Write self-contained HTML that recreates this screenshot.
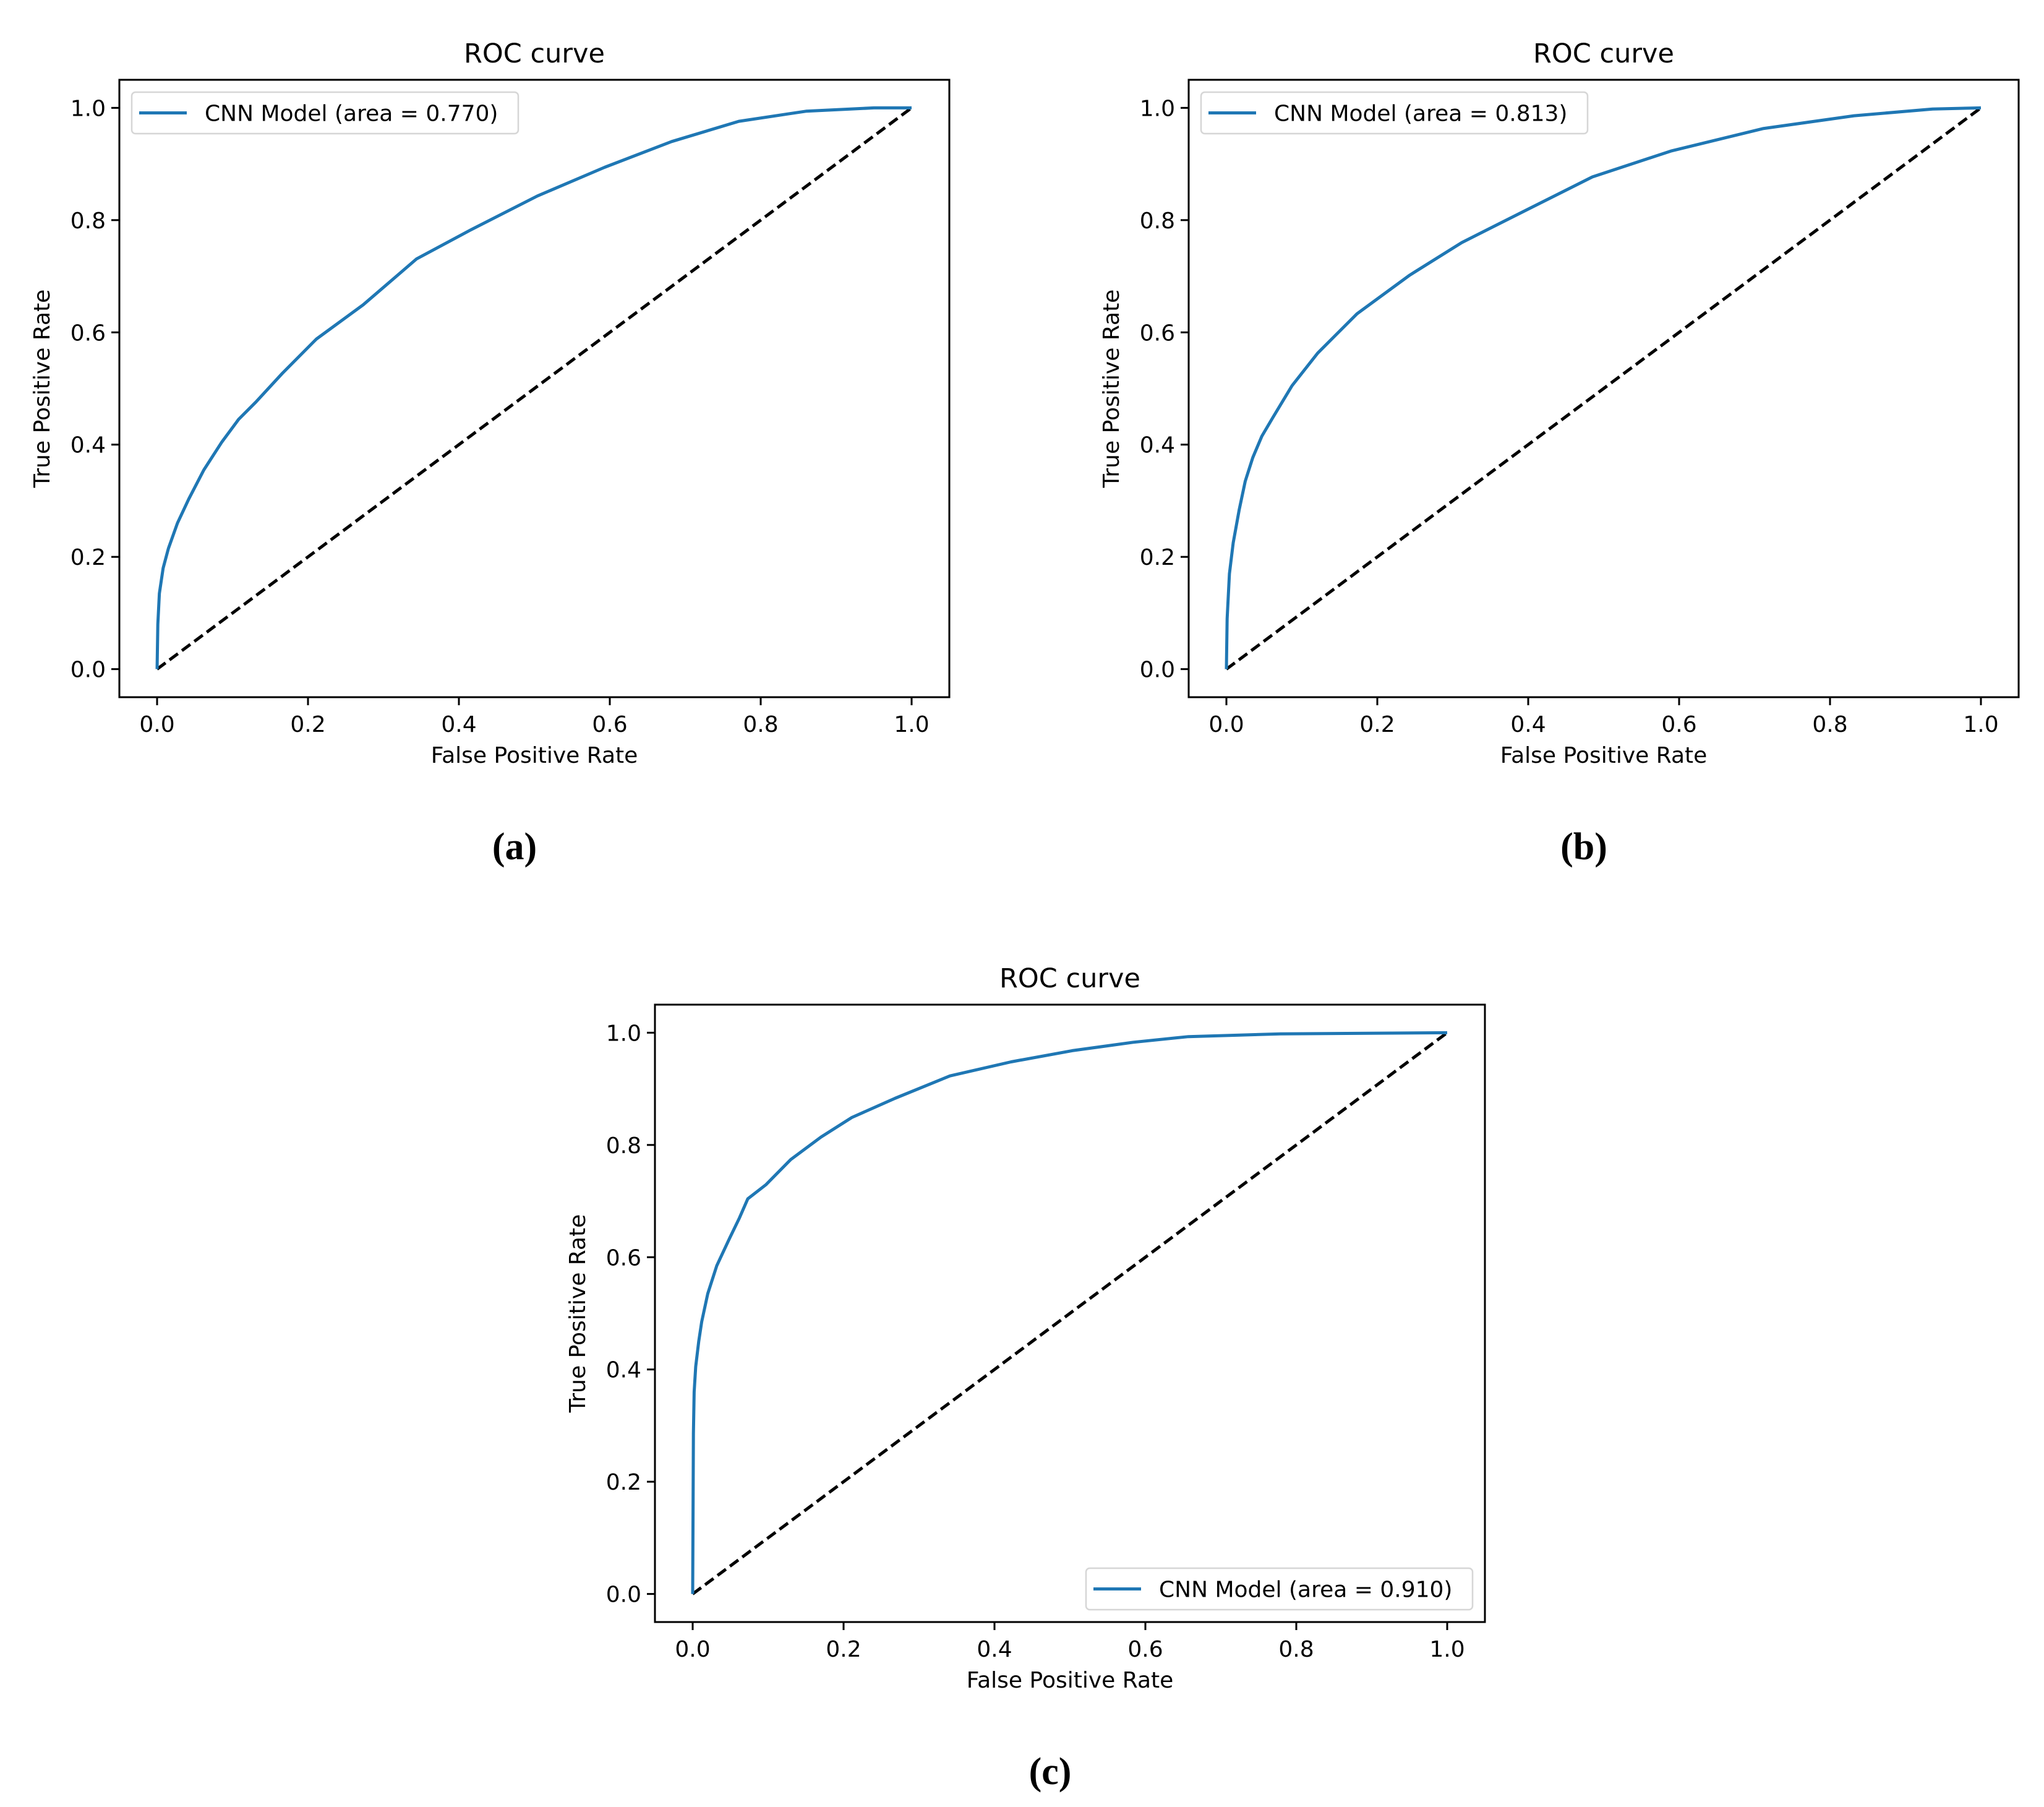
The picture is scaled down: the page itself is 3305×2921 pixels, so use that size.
<!DOCTYPE html>
<html><head><meta charset="utf-8">
<style>
html,body{margin:0;padding:0;background:#fff;}
svg{display:block;}
text{font-family:"DejaVu Sans","Liberation Sans",sans-serif;fill:#000;}
.cap{font-family:"Liberation Serif",serif;font-weight:bold;}
</style></head>
<body>
<svg id="fig" width="3305" height="2921" viewBox="0 0 3305 2921" xmlns="http://www.w3.org/2000/svg"></svg>
<script>
const tickValues = [0, 0.2, 0.4, 0.6, 0.8, 1.0];
const tickLabels = ["0.0", "0.2", "0.4", "0.6", "0.8", "1.0"];
const aucLabels = ["0.770", "0.813", "0.910"];
const panelCaptions = ["(a)", "(b)", "(c)"];
const fprA = [0, 0.001, 0.003, 0.008, 0.015, 0.027, 0.042, 0.062, 0.086, 0.108, 0.131, 0.166, 0.211, 0.273, 0.344, 0.415, 0.504, 0.593, 0.682, 0.771, 0.860, 0.950, 1];
const tprA = [0, 0.080, 0.135, 0.180, 0.215, 0.260, 0.303, 0.355, 0.405, 0.445, 0.476, 0.527, 0.588, 0.649, 0.731, 0.782, 0.843, 0.894, 0.940, 0.976, 0.994, 1.0, 1];
const fprB = [0, 0.001, 0.004, 0.009, 0.017, 0.025, 0.035, 0.047, 0.061, 0.087, 0.121, 0.173, 0.243, 0.312, 0.399, 0.485, 0.589, 0.711, 0.832, 0.936, 1];
const tprB = [0, 0.090, 0.170, 0.225, 0.284, 0.335, 0.377, 0.415, 0.447, 0.505, 0.563, 0.633, 0.702, 0.760, 0.819, 0.877, 0.923, 0.963, 0.986, 0.998, 1];
const fprC = [0, 0.001, 0.002, 0.004, 0.008, 0.012, 0.020, 0.032, 0.049, 0.062, 0.073, 0.097, 0.130, 0.170, 0.211, 0.268, 0.341, 0.422, 0.503, 0.584, 0.657, 0.779, 1];
const tprC = [0, 0.286, 0.360, 0.405, 0.450, 0.485, 0.535, 0.585, 0.634, 0.670, 0.704, 0.729, 0.774, 0.814, 0.849, 0.883, 0.923, 0.948, 0.968, 0.983, 0.993, 0.998, 1];

const NS = "http://www.w3.org/2000/svg";
const svg = document.getElementById("fig");
function mk(tag, attrs, parent) {
  const e = document.createElementNS(NS, tag);
  for (const k in attrs) e.setAttribute(k, attrs[k]);
  (parent || svg).appendChild(e);
  return e;
}

function drawPanel(id, left, top, fpr, tpr, auc, caption, legendBottom) {
  const W = 1342, H = 998;
  const g = mk("g", {});
  
  
  const x0 = left + W * 0.05 / 1.1, xw = W / 1.1;
  const y0 = top + H - H * 0.05 / 1.1, yh = H / 1.1;
  const sx = v => x0 + v * xw;
  const sy = v => y0 - v * yh;

  const t = mk("text", {x: left + W / 2, y: top - 28, "font-size": 43, "text-anchor": "middle"}, g);
  t.textContent = "ROC curve";
  
  

  tickValues.forEach((v, i) => {
    const xt = mk("line", {x1: sx(v), x2: sx(v), y1: top + H, y2: top + H + 13, stroke: "#000", "stroke-width": 3}, g);
    
    
    const xl = mk("text", {x: sx(v), y: top + H + 56, "font-size": 36, "text-anchor": "middle"}, g);
    xl.textContent = tickLabels[i];
    
    
    const yt = mk("line", {x1: left - 13, x2: left, y1: sy(v), y2: sy(v), stroke: "#000", "stroke-width": 3}, g);
    
    
    const yl = mk("text", {x: left - 22, y: sy(v) + 13, "font-size": 36, "text-anchor": "end"}, g);
    yl.textContent = tickLabels[i];
    
    
  });

  const xlab = mk("text", {x: left + W / 2, y: top + H + 106, "font-size": 36, "text-anchor": "middle"}, g);
  xlab.textContent = "False Positive Rate";
  
  
  const cy = top + H / 2;
  const ylab = mk("text", {x: left - 113, y: cy, "font-size": 36, "text-anchor": "middle", transform: "rotate(-90 " + (left - 113) + " " + cy + ")"}, g);
  ylab.textContent = "True Positive Rate";
  
  

  const diag = mk("line", {x1: sx(0), y1: sy(0), x2: sx(1), y2: sy(1), stroke: "#000", "stroke-width": 5, "stroke-dasharray": "17 8"}, g);
  
  

  const d = fpr.map((v, i) => (i ? "L" : "M") + sx(v).toFixed(1) + " " + sy(tpr[i]).toFixed(1)).join(" ");
  const curve = mk("path", {d: d, fill: "none", stroke: "#1f77b4", "stroke-width": 5, "stroke-linejoin": "round"}, g);
  
  

  const fr = mk("rect", {x: left, y: top, width: W, height: H, fill: "none", stroke: "#000", "stroke-width": 3}, g);
  
  

  let lx, ly, lw = 625, lh = 67;
  if (legendBottom) { lx = left + W - 20 - lw; ly = top + H - 20 - lh; }
  else { lx = left + 20; ly = top + 20; }
  const lg = mk("g", {}, g);
  
  
  mk("rect", {x: lx, y: ly, width: lw, height: lh, rx: 6, fill: "#fff", "fill-opacity": 0.8, stroke: "#d6d6d6", "stroke-width": 2.5}, lg);
  const ll = mk("line", {x1: lx + 12, x2: lx + 89, y1: ly + lh / 2, y2: ly + lh / 2, stroke: "#1f77b4", "stroke-width": 5}, lg);
  
  
  const lt = mk("text", {x: lx + 118, y: ly + lh / 2 + 13, "font-size": 36}, lg);
  lt.textContent = "CNN Model (area = " + auc + ")";
  
  

  const cp = mk("text", {x: left + W / 2 - 32, y: top + H + 262, "font-size": 62, "text-anchor": "middle", class: "cap"}, g);
  cp.textContent = caption;
  
  
}

drawPanel("a", 193, 129, fprA, tprA, aucLabels[0], panelCaptions[0], false);
drawPanel("b", 1922, 129, fprB, tprB, aucLabels[1], panelCaptions[1], false);
drawPanel("c", 1059, 1624, fprC, tprC, aucLabels[2], panelCaptions[2], true);
</script>
</body></html>
